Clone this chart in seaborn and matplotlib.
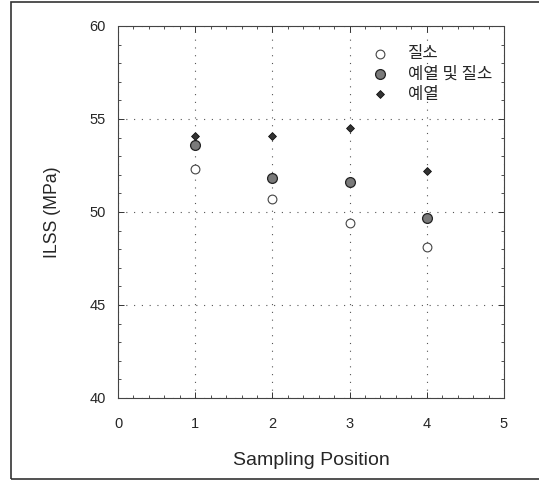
import matplotlib
matplotlib.use("Agg")
import matplotlib.pyplot as plt
import seaborn as sns
import pandas as pd
from matplotlib.ticker import MultipleLocator
from matplotlib.patches import Rectangle

positions = [1, 2, 3, 4]
nitriding = [52.3, 50.7, 49.4, 48.1]
preheat_nitriding = [53.6, 51.8, 51.6, 49.7]
preheat = [54.1, 54.1, 54.5, 52.2]
series_names = ["질소", "예열 및 질소", "예열"]

sns.set_theme(style="white")
plt.rcParams["font.family"] = ["Liberation Sans", "Noto Sans CJK KR", "DejaVu Sans"]

fig = plt.figure(figsize=(5.39, 4.8), dpi=100)
ax = fig.add_axes([0.219, 0.171, 0.716, 0.775])

df = pd.DataFrame({
    "pos": positions * 3,
    "ilss": nitriding + preheat_nitriding + preheat,
    "series": [series_names[0]] * 4 + [series_names[1]] * 4 + [series_names[2]] * 4,
})

styles = {
    series_names[0]: dict(marker="o", s=40, facecolor="white", edgecolor="#444444", linewidth=0.8),
    series_names[1]: dict(marker="o", s=50, facecolor="#7a7a7a", edgecolor="#222222", linewidth=0.9),
    series_names[2]: dict(marker="D", s=16, facecolor="#333333", edgecolor="#111111", linewidth=0.6),
}
for name in series_names:
    sub = df[df["series"] == name]
    sns.scatterplot(data=sub, x="pos", y="ilss", ax=ax, label=name, zorder=3, **styles[name])

ax.set_xlim(0, 5)
ax.set_ylim(40, 60)
ax.xaxis.set_major_locator(MultipleLocator(1))
ax.xaxis.set_minor_locator(MultipleLocator(0.2))
ax.yaxis.set_major_locator(MultipleLocator(5))
ax.yaxis.set_minor_locator(MultipleLocator(1))
ax.tick_params(which="both", direction="in", top=True, right=True, bottom=True, left=True, color="#333333")
ax.tick_params(which="major", length=4, width=0.7, labelsize=10.5)
ax.tick_params(axis="x", which="major", pad=14)
ax.tick_params(axis="y", which="major", pad=9)
ax.tick_params(which="minor", length=2, width=0.6)
ax.grid(True, which="major", linestyle=(0, (1, 6)), color="#555555", linewidth=0.8)
for sp in ax.spines.values():
    sp.set_color("#444444")
    sp.set_linewidth(0.8)
    sp.set_linestyle((0, (4, 1)))

ax.set_xlabel("Sampling Position", fontsize=14, labelpad=15)
ax.set_ylabel("ILSS (MPa)", fontsize=12.7, labelpad=20)

leg = ax.legend(loc="upper right", frameon=False, fontsize=12, handletextpad=0.7,
                labelspacing=0.2, bbox_to_anchor=(1.0, 0.98), borderaxespad=0.3)
for t in leg.get_texts():
    t.set_fontfamily(["Noto Sans CJK KR", "DejaVu Sans"])

fig.patches.append(Rectangle((0.02, 0.002), 1.2, 0.993, transform=fig.transFigure,
                             fill=False, edgecolor="#333333", linewidth=1.2))

fig.savefig("out.png", dpi=100)
